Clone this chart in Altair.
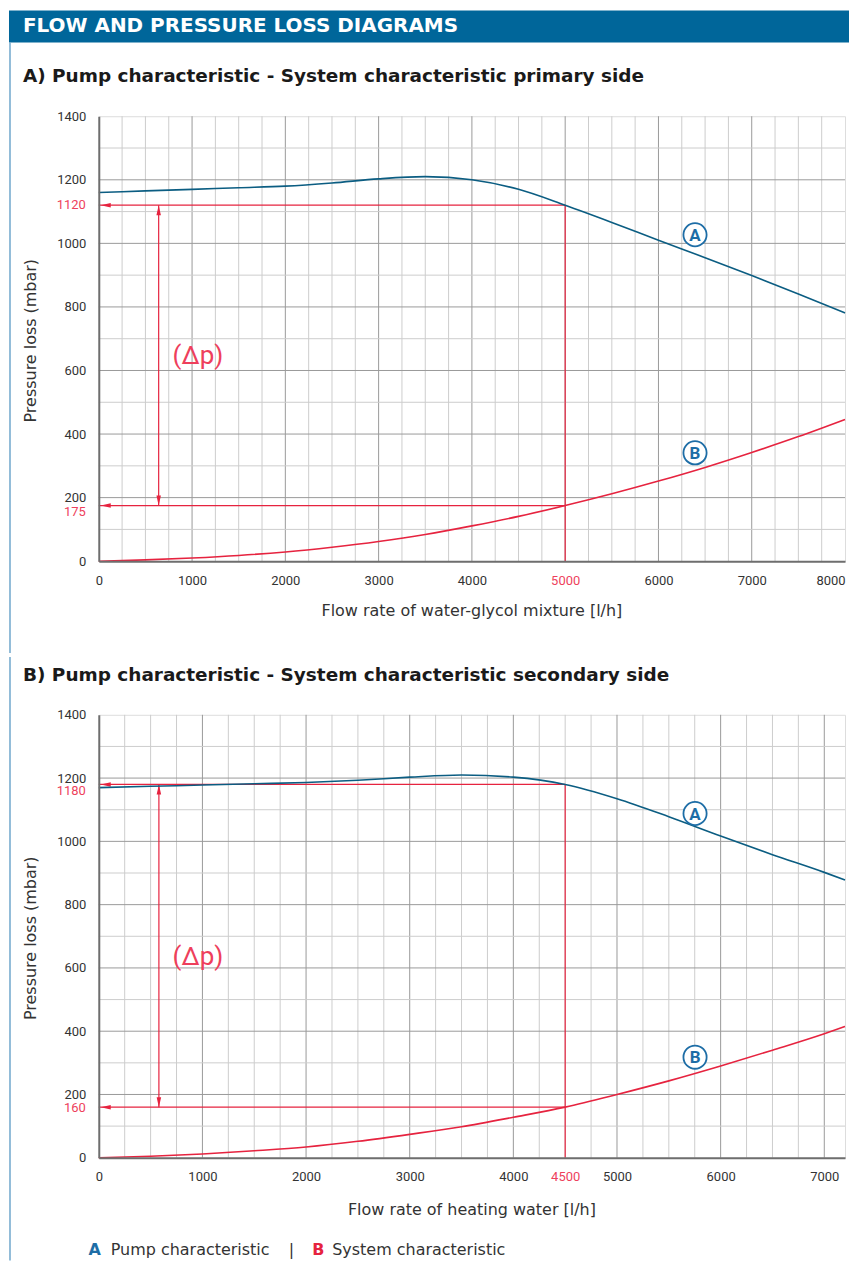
import altair as alt
import pandas as pd
import numpy as np

FONT = "Roboto"
FONT2 = "DejaVu Sans"
BLUE_LINE = "#0b5d82"
BLUE_LBL = "#1d6da6"
RED = "#e6233f"
RED_LBL = "#ee3f5c"
TXT = "#333333"
HEADER = "#00669a"
BORDER = "#6fa7cc"

# ---------------- data: A) primary side ----------------
a_flow = [0, 500, 1000, 1500, 2000, 2500, 3000, 3500, 4000, 4500, 5000, 5500, 6000, 6500, 7000, 7500, 8000]
a_pump = [1160, 1165, 1170, 1175, 1180, 1190, 1203, 1210, 1200, 1170, 1120, 1066, 1010, 955, 899, 841, 781]
a_sys = [0, 4, 10, 18, 29, 44, 62, 84, 111, 141, 175, 212, 252, 295, 342, 392, 446]
a_xticks = [0, 1000, 2000, 3000, 4000, 5000, 6000, 7000, 8000]
a_xmax = 8000
a_op = (5000, 1120, 175)       # operating flow, pump pressure, system pressure
a_arrow_x = 642
a_dp = (791, 647)
a_circA = (6392, 1027)
a_circB = (6392, 341)

# ---------------- data: B) secondary side ----------------
b_flow = [0, 500, 1000, 1500, 2000, 2500, 3000, 3500, 4000, 4500, 5000, 5500, 6000, 6500, 7000, 7200]
b_pump = [1170, 1174, 1178, 1182, 1186, 1193, 1203, 1210, 1203, 1180, 1135, 1078, 1017, 958, 902, 878]
b_sys = [0, 5, 12, 22, 34, 52, 74, 98, 128, 160, 200, 243, 290, 340, 392, 415]
b_xticks = [0, 1000, 2000, 3000, 4000, 4500, 5000, 6000, 7000]
b_xmax = 7200
b_op = (4500, 1180, 160)
b_arrow_x = 580
b_dp = (712, 635)
b_circA = (5753, 1088)
b_circB = (5753, 318)

y_ticks = [0, 200, 400, 600, 800, 1000, 1200, 1400]

LEFT = "M-1,0L1,-0.45L1,0.45Z"
UP = "M0,-1L0.45,1L-0.45,1Z"
DOWN = "M0,1L0.45,-1L-0.45,-1Z"

W = 748


def one(text):
    return pd.DataFrame({"t": [text]})


def text_px(text, x, y, **kw):
    base = dict(font=FONT2, baseline="middle", align="left")
    base.update(kw)
    return alt.Chart(one(text)).mark_text(**base).encode(
        x=alt.value(x), y=alt.value(y), text="t:N")


def panel(H, flow, pump, sysc, xticks, xmax, op, arrow_x, dp, circA, circB,
          title, xtitle, header, red_dy, legend):
    op_q, op_hi, op_lo = op
    px_per_q = W / xmax
    px_per_p = H / 1400.0
    xs = alt.Scale(domain=[0, xmax], nice=False, zero=True)
    ys = alt.Scale(domain=[0, 1400], nice=False, zero=True)
    xaxis = alt.Axis(values=xticks, title=None, grid=False, ticks=False,
                     labelFontSize=13, labelFont=FONT, labelPadding=13,
                     labelColor=alt.ExprRef(f"datum.value == {op_q} ? '{RED_LBL}' : '{TXT}'"),
                     labelAlign=alt.ExprRef(f"datum.value == {xmax} ? 'right' : 'center'"),
                     domainColor="#6e6e6e", domainWidth=2, labelOverlap=False,
                     format="d", zindex=1)
    yaxis = alt.Axis(values=y_ticks, title=None, grid=False, ticks=False,
                     labelFontSize=13, labelFont=FONT, labelPadding=13,
                     labelColor=TXT, domainColor="#6e6e6e", domainWidth=2,
                     labelOverlap=False, format="d", zindex=1)

    def X(f="q"):
        return alt.X(f"{f}:Q", scale=xs, axis=xaxis)

    def Y(f="p"):
        return alt.Y(f"{f}:Q", scale=ys, axis=yaxis)

    gx = np.arange(250, xmax, 250)
    gx_df = pd.DataFrame({"q": gx, "c": ["#9a9a9a" if v % 1000 == 0 else "#cdcdcd" for v in gx]})
    gy = np.arange(100, 1400, 100)
    gy_df = pd.DataFrame({"p": gy, "c": ["#9a9a9a" if v % 200 == 0 else "#cdcdcd" for v in gy]})

    grid_v = alt.Chart(gx_df).mark_rule(strokeWidth=1).encode(
        x=X(), y=alt.value(0), y2=alt.value(H), color=alt.Color("c:N", scale=None))
    grid_h = alt.Chart(gy_df).mark_rule(strokeWidth=1).encode(
        y=Y(), x=alt.value(0), x2=alt.value(W), color=alt.Color("c:N", scale=None))

    seg = pd.DataFrame({
        "q": [0, op_q, 0, arrow_x],
        "q2": [op_q, op_q, op_q, arrow_x],
        "p": [op_hi, op_hi, op_lo, op_hi],
        "p2": [op_hi, 0, op_lo, op_lo],
    })
    red_lines = alt.Chart(seg).mark_rule(color=RED, strokeWidth=1.2).encode(
        x=X(), x2="q2:Q", y=Y(), y2="p2:Q")

    tip_q = 7 / px_per_q
    tip_p = 5 / px_per_p
    heads = pd.DataFrame({
        "q": [tip_q, tip_q, arrow_x, arrow_x],
        "p": [op_hi, op_lo, op_hi - tip_p, op_lo + tip_p],
        "s": [LEFT, LEFT, UP, DOWN],
    })
    arrows = alt.Chart(heads).mark_point(filled=True, opacity=1, color=RED, size=100).encode(
        x=X(), y=Y(), shape=alt.Shape("s:N", scale=None))

    pump_df = pd.DataFrame({"q": flow, "p": pump})
    sys_df = pd.DataFrame({"q": flow, "p": sysc})
    pump_line = alt.Chart(pump_df).mark_line(color=BLUE_LINE, strokeWidth=1.6, interpolate="monotone").encode(
        x=X(), y=Y())
    sys_line = alt.Chart(sys_df).mark_line(color=RED, strokeWidth=1.6, interpolate="monotone").encode(
        x=X(), y=Y())

    circ_df = pd.DataFrame({"q": [circA[0], circB[0]], "p": [circA[1], circB[1]], "t": ["A", "B"]})
    circles = alt.Chart(circ_df).mark_point(shape="circle", size=540, filled=True, fill="white",
                                           stroke=BLUE_LBL, strokeWidth=1.8, opacity=1).encode(
        x=X(), y=Y())
    circ_txt = alt.Chart(circ_df).mark_text(font=FONT, fontWeight="bold", fontSize=17,
                                           color=BLUE_LBL, baseline="middle", dy=1).encode(
        x=X(), y=Y(), text="t:N")

    dp_df = pd.DataFrame({"q": [dp[0]], "p": [dp[1]], "t": ["(Δp)"]})
    dp_txt = alt.Chart(dp_df).mark_text(font=FONT, fontSize=26, color=RED_LBL, align="left",
                                       baseline="middle").encode(x=X(), y=Y(), text="t:N")

    lab_hi = alt.Chart(pd.DataFrame({"p": [op_hi], "t": [str(op_hi)]})).mark_text(
        font=FONT, fontSize=13, color=RED_LBL, align="right", baseline="middle", dy=red_dy[0]).encode(
        x=alt.value(-13), y=Y(), text="t:N")
    lab_lo = alt.Chart(pd.DataFrame({"p": [op_lo], "t": [str(op_lo)]})).mark_text(
        font=FONT, fontSize=13, color=RED_LBL, align="right", baseline="middle", dy=red_dy[1]).encode(
        x=alt.value(-13), y=Y(), text="t:N")

    layers = []
    if header:
        layers.append(alt.Chart(one("h")).mark_rect(color=HEADER).encode(
            x=alt.value(-90), x2=alt.value(752), y=alt.value(-106), y2=alt.value(-74)))
        layers.append(text_px("FLOW AND PRESSURE LOSS DIAGRAMS", -76, -90, fontSize=20,
                              fontWeight="bold", color="white"))
        layers.append(alt.Chart(one("b")).mark_rule(color=BORDER, strokeWidth=1.5).encode(
            x=alt.value(-89), y=alt.value(-74), y2=alt.value(538)))
    else:
        layers.append(alt.Chart(one("b")).mark_rule(color=BORDER, strokeWidth=1.5).encode(
            x=alt.value(-89), y=alt.value(-58), y2=alt.value(547)))

    layers += [grid_v, grid_h, red_lines, arrows, pump_line, sys_line, circles, circ_txt,
               dp_txt, lab_hi, lab_lo]
    layers.append(text_px(title, -76, -40, fontSize=18.5, fontWeight="bold", color="#1a1a1a"))
    layers.append(text_px("Pressure loss (mbar)", -68, H / 2 + 2, fontSize=16, color=TXT,
                          angle=270, align="center"))
    layers.append(text_px(xtitle, W / 2, 496, fontSize=16, color=TXT, align="center"))
    if legend:
        layers.append(text_px("A", -4, 536, fontSize=16, fontWeight="bold", color=BLUE_LBL, align="center"))
        layers.append(text_px("Pump characteristic", 12, 536, fontSize=16, color=TXT))
        layers.append(text_px("|", 193, 536, fontSize=16, color=TXT, align="center"))
        layers.append(text_px("B", 220, 536, fontSize=16, fontWeight="bold", color=RED, align="center"))
        layers.append(text_px("System characteristic", 234, 536, fontSize=16, color=TXT))

    return alt.layer(*layers).properties(width=W, height=H)


chart_a = panel(446, a_flow, a_pump, a_sys, a_xticks, a_xmax, a_op, a_arrow_x, a_dp, a_circA, a_circB,
                "A) Pump characteristic - System characteristic primary side",
                "Flow rate of water-glycol mixture [l/h]", True, (0, 6), False)
chart_b = panel(444, b_flow, b_pump, b_sys, b_xticks, b_xmax, b_op, b_arrow_x, b_dp, b_circA, b_circB,
                "B) Pump characteristic - System characteristic secondary side",
                "Flow rate of heating water [l/h]", False, (7, 1), True)

chart = alt.vconcat(chart_a, chart_b, spacing=0).properties(padding=0).configure_view(
    stroke="#222222", strokeWidth=2).configure(font=FONT)

chart.save("out.html", embed_options={"renderer": "svg", "actions": False})
